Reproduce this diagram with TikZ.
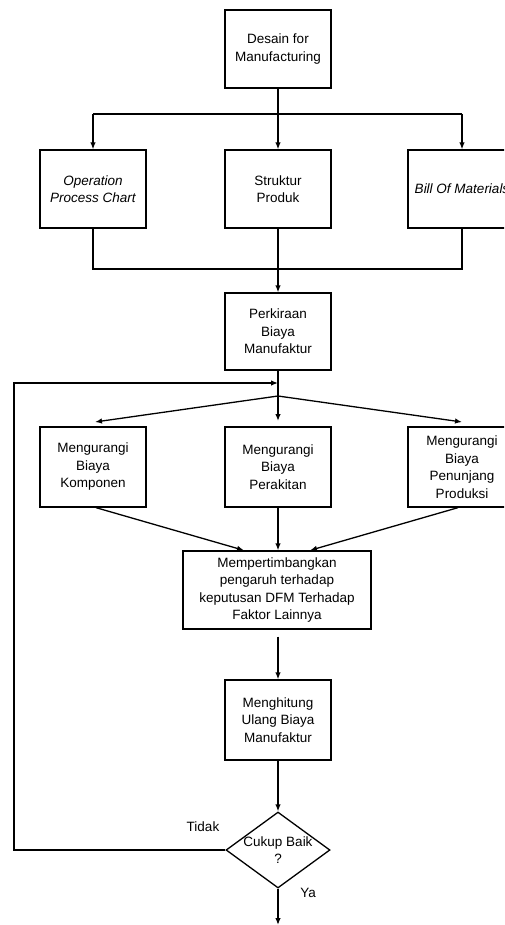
\documentclass[tikz,border=0pt]{standalone}
\usepackage{fontspec}
\setmainfont{Liberation Sans}
\usetikzlibrary{shapes.geometric,arrows.meta}
\begin{document}
\begin{tikzpicture}[x=1pt,y=-1pt,
 txt/.style={font=\fontsize{13.5}{17.5}\selectfont},
 box/.style={draw, line width=1.3pt, minimum width=106pt, minimum height=78pt, inner sep=0pt, align=center, txt},
 ln/.style={line width=1.3pt},
 arr/.style={-{Latex[length=7pt,width=5.5pt]}, line width=1.3pt}]
\useasboundingbox (0,0) rectangle (504,925);
\clip (0,0) rectangle (504,925);
% row 1
\node[box] (dfm) at (278,49) {Desain for\\Manufacturing};
% row 2
\node[box, font=\fontsize{13.5}{17.5}\selectfont\itshape] (opc) at (93,189) {Operation\\Process Chart};
\node[box] (sp) at (278,189) {Struktur\\Produk};
\node[box, minimum width=108pt, font=\fontsize{13.5}{17.5}\selectfont\itshape] (bom) at (462,189) {Bill Of Materials};
% row 2.5
\node[box, minimum height=77pt] (pbm) at (278,331.5) {Perkiraan\\Biaya\\Manufaktur};
% row 3
\node[box, minimum height=80pt] (mbk) at (93,467) {Mengurangi\\Biaya\\Komponen};
\node[box, minimum height=80pt] (mbp) at (278,467) {Mengurangi\\Biaya\\Perakitan};
\node[box, minimum height=80pt, minimum width=108pt] (pp) at (462,467) {Mengurangi\\Biaya\\Penunjang\\Produksi};
% row 4
\node[box, minimum width=188pt] (mfl) at (277,590) {Mempertimbangkan\\pengaruh terhadap\\keputusan DFM Terhadap\\Faktor Lainnya};
\node[box, minimum height=80pt] (mhu) at (278,720) {Menghitung\\Ulang Biaya\\Manufaktur};
% decision
\node[draw, diamond, line width=1.3pt, minimum width=104pt, minimum height=76pt, inner sep=0pt] (dec) at (278,850) {};
\node[txt, align=center] (dect) at (278,850) {Cukup Baik\\?};
\node[txt] (tidak) at (203,827) {Tidak};
\node[txt] (ya) at (308,893) {Ya};
% coordinates
\coordinate (s1) at (278,114);
\coordinate (s1l) at (93,114);
\coordinate (s1r) at (462,114);
\coordinate (j1l) at (93,269);
\coordinate (j1r) at (462,269);
\coordinate (fb) at (278,383);
\coordinate (fbx) at (14,383);
\coordinate (br) at (278,396);
\coordinate (tl) at (95,422);
\coordinate (tm) at (278,421);
\coordinate (tr) at (462,422);
\coordinate (out) at (278,925);
% connectors
\draw[ln] (dfm.south) -- (s1);
\draw[ln] (s1l) -- (s1r);
\draw[arr] (s1l) -- (opc.north);
\draw[arr] (s1) -- (sp.north);
\draw[arr] (s1r) -- (bom.north);
\draw[ln] (opc.south) -- (j1l) -- (j1r) -- (bom.south);
\draw[arr] (sp.south) -- (pbm.north);
\draw[ln] (pbm.south) -- (br);
\draw[arr] (br) -- (tl);
\draw[arr] (br) -- (tm);
\draw[arr] (br) -- (tr);
\draw[arr] ([xshift=3pt]mbk.south) -- ([xshift=-33pt]mfl.north);
\draw[arr] (mbp.south) -- ([xshift=1pt]mfl.north);
\draw[arr] ([xshift=-4pt]pp.south) -- ([xshift=33pt]mfl.north);
\draw[arr] ([yshift=-7pt]mfl.south -| mhu.north) -- (mhu.north);
\draw[arr] (mhu.south) -- (dec.north);
\draw[arr] (dec.west) -- (dec.west -| fbx) |- (fb);
\draw[arr] (dec.south) -- (out);
\end{tikzpicture}
\end{document}
